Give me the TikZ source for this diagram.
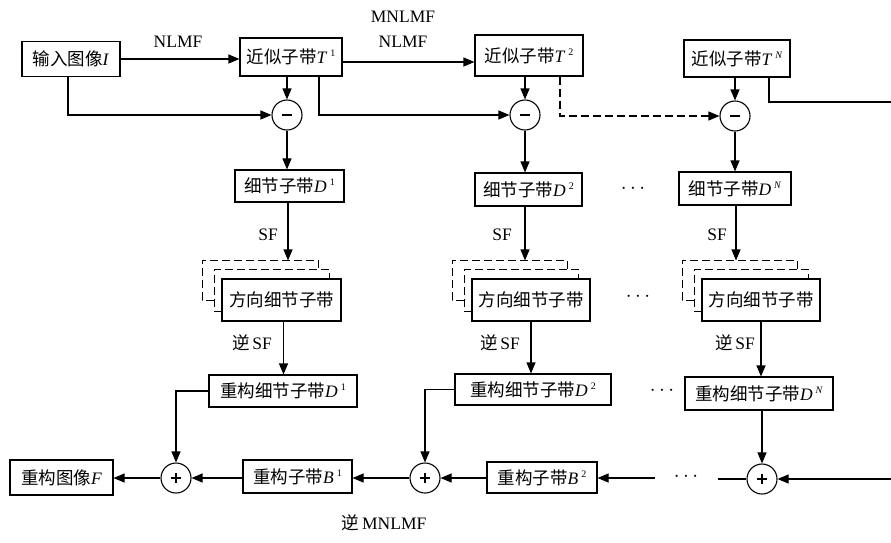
\documentclass[tikz,border=0pt]{standalone}
\usepackage{fontspec}
\setmainfont{Liberation Serif}
\newfontfamily\cjk{Noto Sans CJK SC}
\usetikzlibrary{arrows.meta,calc}
\newcommand\zhtxt[1]{{\cjk #1}}
\newcommand\supx[1]{\,\raisebox{7pt}{\fontsize{10}{10}\selectfont #1}}
\newcommand\plussign{\rule{4.5pt}{0pt}\llap{\rule[-4.5pt]{1.8pt}{10.8pt}\hspace{-0.9pt}}\rule{0pt}{0pt}}
\begin{document}
\begin{tikzpicture}[x=1pt,y=-1pt,>={Triangle[length=11pt,width=9pt]},line width=1.1pt,
  box/.style={draw,line width=1.1pt,inner sep=0pt,font=\fontsize{17.5}{20}\selectfont},
  circ/.style={draw,circle,minimum size=30pt,inner sep=0pt,line width=1.1pt},
  lbl/.style={inner sep=0pt,font=\fontsize{17.5}{20}\selectfont},
  dts/.style={inner sep=0pt,font=\fontsize{22}{22}\selectfont},
  dsh/.style={dash pattern=on 8pt off 4pt}]
\useasboundingbox (0,0) rectangle (891,542);
% top row
\node[box,minimum width=98pt,minimum height=35pt] (in) at (71,59) {\zhtxt{输入图像}\textit{I}};
\node[box,minimum width=102pt,minimum height=38pt] (t1) at (291,57) {\zhtxt{近似子带}\textit{T}\supx{1}};
\node[box,minimum width=108pt,minimum height=41pt] (t2) at (529,55.5) {\zhtxt{近似子带}\textit{T}\supx{2}};
\node[box,minimum width=106pt,minimum height=37pt] (tN) at (737,58.5) {\zhtxt{近似子带}\textit{T}\supx{\textit{N}}};
\node[circ] (m1) at (287,115) {};
\node[circ] (m2) at (525,115) {};
\node[circ] (m3) at (735,116) {};
% detail
\node[box,minimum width=109pt,minimum height=32pt] (d1) at (289.5,186) {\zhtxt{细节子带}\textit{D}\supx{1}};
\node[box,minimum width=107pt,minimum height=33pt] (d2) at (528.5,189.5) {\zhtxt{细节子带}\textit{D}\supx{2}};
\node[box,minimum width=112pt,minimum height=33pt] (dN) at (735,188.5) {\zhtxt{细节子带}\textit{D}\supx{\textit{N}}};
% directional
\node[box,minimum width=119pt,minimum height=42pt] (dir1) at (281.5,300) {\zhtxt{方向细节子带}};
\node[box,minimum width=118pt,minimum height=42pt] (dir2) at (531,300) {\zhtxt{方向细节子带}};
\node[box,minimum width=118pt,minimum height=42pt] (dir3) at (761,300) {\zhtxt{方向细节子带}};
% reconstructed detail
\node[box,minimum width=148pt,minimum height=32pt] (r1) at (283,391) {\zhtxt{重构细节子带}\textit{D}\supx{1}};
\node[box,minimum width=156pt,minimum height=31pt] (r2) at (533,389.5) {\zhtxt{重构细节子带}\textit{D}\supx{2}};
\node[box,minimum width=148pt,minimum height=33pt] (rN) at (759,393.5) {\zhtxt{重构细节子带}\textit{D}\supx{\textit{N}}};
% bottom row
\node[box,minimum width=103pt,minimum height=35pt] (F) at (61.5,477.5) {\zhtxt{重构图像}\textit{F}};
\node[box,minimum width=109pt,minimum height=33pt] (b1) at (297.5,476.5) {\zhtxt{重构子带}\textit{B}\supx{1}};
\node[box,minimum width=110pt,minimum height=31pt] (b2) at (542,477.5) {\zhtxt{重构子带}\textit{B}\supx{2}};
\node[circ] (p1) at (176,478) {};
\node[circ] (p2) at (425,478) {};
\node[circ] (p3) at (762,479) {};
% signs inside the circles
\foreach \c in {m1,m2,m3}{\draw[line width=1.8pt] ([xshift=-5pt]\c.center) -- ([xshift=5pt]\c.center);}
\foreach \c in {p1,p2,p3}{
  \draw[line width=1.8pt] ([xshift=-5pt]\c.center) -- ([xshift=5pt]\c.center);
  \draw[line width=1.8pt] ([yshift=-5pt]\c.center) -- ([yshift=5pt]\c.center);}
% labels
\node[lbl] (l1) at (178,42) {NLMF};
\node[lbl] (l2) at (403,17) {MNLMF};
\node[lbl] (l3) at (403,42) {NLMF};
\node[lbl] (l4) at (384,523) {\zhtxt{逆}\,MNLMF};
\node[lbl] (s1) at (268,235) {SF};
\node[lbl] (s2) at (502,235) {SF};
\node[lbl] (s3) at (717,235) {SF};
\node[lbl] (i1) at (252,343) {\zhtxt{逆}\,SF};
\node[lbl] (i2) at (500,343) {\zhtxt{逆}\,SF};
\node[lbl] (i3) at (735,343) {\zhtxt{逆}\,SF};
\node[dts] (dt1) at (633,189) {$\cdots$};
\node[dts] (dt2) at (638,297) {$\cdots$};
\node[dts] (dt3) at (662,391) {$\cdots$};
\node[dts] (dt4) at (686,477) {$\cdots$};
% helper coordinates
\coordinate (y62) at (0,62);
\coordinate (x288) at (288,0);
\coordinate (x736) at (736,0);
\coordinate (eR1) at (891,102);
\coordinate (eR2) at (891,479);
\coordinate (c1) at (655,478);
\coordinate (c2) at (718,479);
% dashed stacks
\foreach \d in {dir1,dir2,dir3}{
  \draw[dsh] ($(\d.south west)+(0,-10)$) -- ($(\d.south west)+(-7,-10)$) -- ($(\d.north west)+(-7,-9)$) -- ($(\d.north east)+(-12,-9)$) -- ($(\d.north east)+(-12,0)$);
  \draw[dsh] ($(\d.north west)+(-7,22)$) -- ($(\d.north west)+(-19,22)$) -- ($(\d.north west)+(-19,-18)$) -- ($(\d.north east)+(-23,-18)$) -- ($(\d.north east)+(-23,-9)$);
}
\coordinate (o1) at ($(dir1.north west)+(-19,-18)$);
\coordinate (o2) at ($(dir2.north west)+(-19,-18)$);
\coordinate (o3) at ($(dir3.north west)+(-19,-18)$);
% top connectors
\draw[->] (in.east) -- (t1.west |- in.east);
\draw[->] (t1.east |- y62) -- (t2.west |- y62);
\draw[->] ([xshift=-3pt]in.south) |- (m1.west);
\draw[->] (t1.south -| m1) -- (m1.north);
\draw[->] ([xshift=28pt]t1.south) |- (m2.west);
\draw[->] (t2.south -| m2) -- (m2.north);
\draw[->,dsh] ([xshift=31pt]t2.south) |- (m3.west);
\draw[->] (tN.south -| m3) -- (m3.north);
\draw ([xshift=32pt]tN.south) |- (eR1);
% to details
\draw[->] (m1.south) -- (d1.north -| m1);
\draw[->] (m2.south) -- (d2.north -| m2);
\draw[->] (m3.south) -- (dN.north -| m3);
\draw[->] (d1.south -| x288) -- (x288 |- o1);
\draw[->] (d2.south -| m2) -- (m2 |- o2);
\draw[->] (dN.south -| x736) -- (x736 |- o3);
\draw[->] ([xshift=2pt]dir1.south) coordinate (a1) -- (a1 |- r1.north);
\draw[->] (dir2.south) -- (dir2.south |- r2.north);
\draw[->] (dir3.south) -- (dir3.south |- rN.north);
% bottom
\draw[->] (r1.west) -| (p1.north);
\draw[->] (r2.west) -| (p2.north);
\draw[->] (rN.south -| p3) -- (p3.north);
\draw[->] (p1.west) -- (F.east |- p1.west);
\draw[->] (b1.west |- p1.east) -- (p1.east);
\draw[->] (p2.west) -- (b1.east |- p2.west);
\draw[->] (b2.west |- p2.east) -- (p2.east);
\draw[->] (c1) -- (b2.east |- c1);
\draw (c2) -- (p3.west);
\draw[->] (eR2) -- (p3.east);
\end{tikzpicture}
\end{document}
